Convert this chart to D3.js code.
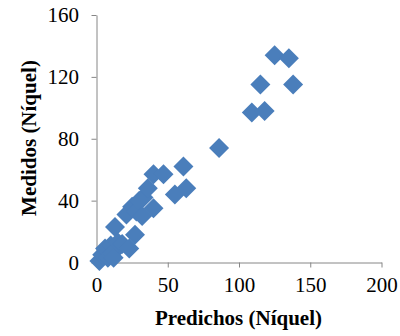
<!DOCTYPE html>
<html>
<head>
<meta charset="utf-8">
<script src="https://cdn.jsdelivr.net/npm/d3@7"></script>
<style>
  body { margin: 0; background: #fff; }
  svg { display: block; }
</style>
</head>
<body>
<svg id="chart" width="400" height="336"></svg>
<script>
const predichos = [2, 4, 6, 8, 10, 11, 12, 13, 15, 18, 21, 23, 25, 27, 28, 30, 32, 33, 36, 40, 40, 47, 55, 61, 63, 86, 109, 115, 118, 125, 135, 138];
const medidos   = [1, 5, 9, 3, 11, 6, 3, 23, 13, 12, 31, 9, 36, 18, 33, 40, 30, 42, 48, 35, 57, 57, 44, 62, 48, 74, 97, 115, 98, 134, 132, 115];
const xTicks = [0, 50, 100, 150, 200];
const yTicks = [0, 40, 80, 120, 160];

const svg = d3.select("#chart");
const mLeft = 96.5, mRight = 381.5, mTop = 15, mBottom = 262.5;
const x = d3.scaleLinear().domain([0, 200]).range([mLeft, mRight]);
const y = d3.scaleLinear().domain([0, 160]).range([mBottom, mTop]);
const font = "'Liberation Serif', 'Times New Roman', serif";
const axisColor = "#868686";

const xAxis = svg.append("g").attr("transform", `translate(0,${mBottom})`)
  .call(d3.axisBottom(x).tickValues(xTicks).tickSize(5).tickPadding(10).tickSizeOuter(0));
const yAxis = svg.append("g").attr("transform", `translate(${mLeft},0)`)
  .call(d3.axisLeft(y).tickValues(yTicks).tickSize(5).tickPadding(12.5).tickSizeOuter(0));

[xAxis, yAxis].forEach(g => {
  g.selectAll("path, line").attr("stroke", axisColor).attr("stroke-width", 1);
  g.selectAll("text").attr("fill", "#000").style("font-family", font).style("font-size", "21px");
});

const diamond = d3.symbol().type(d3.symbolSquare).size(200);
svg.append("g").selectAll("path").data(predichos.map((p, i) => [p, medidos[i]]))
  .join("path")
  .attr("d", diamond)
  .attr("transform", d => `translate(${x(d[0])},${y(d[1])}) rotate(45)`)
  .attr("fill", "#4A7EBB");

svg.append("text")
  .attr("x", 238.5).attr("y", 325)
  .attr("text-anchor", "middle")
  .style("font-family", font).style("font-size", "21px").style("font-weight", "bold")
  .text("Predichos (Níquel)");

svg.append("text")
  .attr("transform", `translate(36,138) rotate(-90)`)
  .attr("text-anchor", "middle")
  .style("font-family", font).style("font-size", "21px").style("font-weight", "bold")
  .text("Medidos (Níquel)");
</script>
</body>
</html>
